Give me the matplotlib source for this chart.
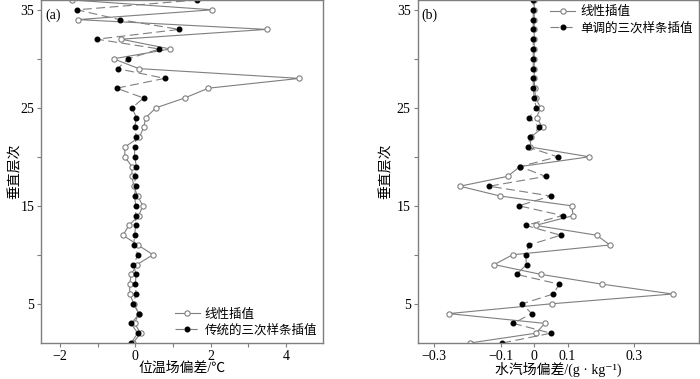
import matplotlib
matplotlib.use("Agg")
import matplotlib.pyplot as plt

plt.rcParams['font.family'] = ['Liberation Serif', 'Noto Sans CJK SC', 'DejaVu Serif']

# vertical levels (bottom to top)
levels = list(range(1, 37))

# (a) potential temperature bias
theta_linear = [-0.06, 0.14, -0.02, 0.09, -0.04, -0.15, -0.15, -0.11, 0.04, 0.47,
                0.07, -0.33, -0.17, 0.09, 0.20, 0.06, -0.04, -0.09, -0.09, -0.28,
                -0.28, 0.11, 0.22, 0.28, 0.55, 1.31, 1.94, 4.36, 0.09, -0.58,
                0.93, -0.38, 3.49, -1.52, 2.05, -1.68]
theta_spline = [-0.11, 0.06, -0.11, 0.11, -0.06, 0.02, 0.00, 0.02, -0.05, 0.07,
                -0.04, -0.02, 0.01, 0.01, 0.01, -0.02, 0.01, -0.02, 0.03, -0.02,
                -0.02, 0.03, -0.02, 0.03, -0.09, 0.22, -0.50, 0.78, -0.47, -0.19,
                0.64, -1.02, 1.17, -0.42, -1.55, 1.64]

# (b) water vapour bias
q_linear = [-0.193, 0.005, 0.032, -0.257, 0.052, 0.415, 0.204, 0.020, -0.120, -0.065,
            0.227, 0.187, 0.004, 0.117, 0.112, -0.103, -0.223, -0.080, -0.043, 0.165,
            -0.012, -0.010, 0.025, 0.007, 0.019, 0.004, 0.001, 0.0, 0.0, 0.0,
            0.0, 0.0, 0.0, 0.0, 0.0, 0.0]
q_spline = [-0.096, 0.050, -0.063, -0.008, -0.036, 0.057, 0.075, -0.053, -0.023, -0.026,
            -0.015, 0.079, -0.026, 0.085, -0.046, 0.049, -0.135, 0.034, -0.043, 0.070,
            -0.020, -0.012, 0.015, -0.015, 0.006, 0.0, -0.003, -0.003, -0.003, -0.003,
            -0.003, -0.003, -0.003, -0.003, -0.003, -0.003]

fig = plt.figure(figsize=(7.0, 3.79), dpi=100)
ax1 = fig.add_axes([0.059, 0.095, 0.403, 0.905])
ax2 = fig.add_axes([0.5965, 0.095, 0.402, 0.905])

grey = '#7f7f7f'


def draw(ax, lin, spl, spl_label, panel):
    ax.plot(lin, levels, color=grey, lw=0.8, marker='o', ms=3.8,
            mfc='white', mec=grey, mew=0.8, label='线性插值')
    ax.plot(spl, levels, color=grey, lw=0.8, ls=(0, (8, 4)), marker='o', ms=3.3,
            mfc='black', mec='black', label=spl_label)
    ax.set_ylim(1, 36)
    ax.set_yticks(range(5, 36, 5))
    ax.set_yticklabels(['5', '', '15', '', '25', '', '35'])
    ax.set_ylabel('垂直层次', fontsize=10)
    for s in ax.spines.values():
        s.set_color(grey)
        s.set_linewidth(1.0)
    ax.tick_params(direction='out', length=3, width=0.8, color=grey,
                   labelsize=10, pad=2)
    ax.text(0.015, 0.975, panel, transform=ax.transAxes, fontsize=10,
            va='top', ha='left')


draw(ax1, theta_linear, theta_spline, '传统的三次样条插值', '(a)')
ax1.set_xlim(-2.5, 5.0)
ax1.set_xticks(range(-2, 5))
ax1.set_xticklabels(['\u22122', '', '0', '', '2', '', '4'])
ax1.set_xlabel('位温场偏差/℃', fontsize=10)
ax1.yaxis.set_label_coords(-0.068, 0.5)
ax1.xaxis.set_label_coords(0.5, -0.055)
ax1.legend(loc='lower right', frameon=False, fontsize=9, handlelength=2.0,
           handletextpad=0.4, borderaxespad=0.1, labelspacing=0.3)

draw(ax2, q_linear, q_spline, '单调的三次样条插值', '(b)')
ax2.set_xlim(-0.35, 0.494)
ax2.set_xticks([-0.3, -0.1, 0, 0.1, 0.3])
ax2.set_xticklabels(['\u22120.3', '\u22120.1', '0', '0.1', '0.3'])
ax2.set_xlabel('水汽场偏差/(g · kg\u207b\u00b9)', fontsize=10)
ax2.yaxis.set_label_coords(-0.09, 0.5)
ax2.xaxis.set_label_coords(0.5, -0.055)
ax2.legend(loc='upper right', frameon=False, fontsize=9, handlelength=2.0,
           handletextpad=0.4, borderaxespad=0.1, labelspacing=0.3)

fig.savefig('out.png', dpi=100)
